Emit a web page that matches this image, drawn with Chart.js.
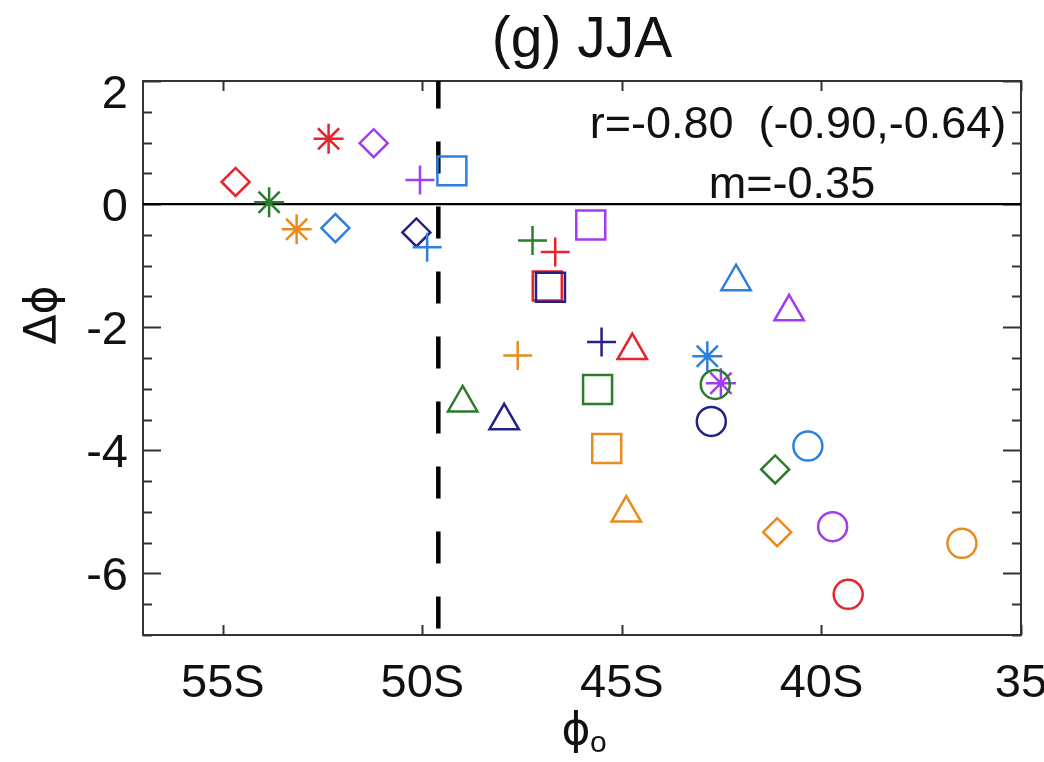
<!DOCTYPE html>
<html><head><meta charset="utf-8">
<script src="https://cdn.jsdelivr.net/npm/chart.js@4.4.1/dist/chart.umd.min.js"></script>
<style>html,body{margin:0;padding:0;background:#fff}#wrap{width:1044px;height:762px}</style>
</head><body><div id="wrap"><canvas id="c" width="1044" height="762"></canvas></div>
<script>
// ---- data ----
const chartTitle = '(g) JJA';
const xTickValues = [-55, -50, -45, -40, -35];
const xTickLabels = ['55S', '50S', '45S', '40S', '35'];
const yTickValues = [-6, -4, -2, 0, 2];
const yTickLabels = ['-6', '-4', '-2', '0', '2'];
const xAxisTitle = '\u03D5';
const xAxisSub = 'o';
const yAxisTitle = '\u0394\u03D5';
const statsLines = ['r=-0.80  (-0.90,-0.64)', 'm=-0.35'];
const refLatitude = -49.6;

// colour order: red, green, orange, blue, purple, navy
const memberColors = ['#E8232B', '#2B7D2B', '#E88C1E', '#2F7FE0', '#A23CEF', '#222286'];

const diamondLat  = [-54.68, -41.16, -41.11, -52.18, -51.22, -50.15];
const diamondDphi = [  0.36,  -4.31,  -5.33,  -0.39,   0.99,  -0.46];
const starLat     = [-52.35, -53.84, -53.15, -42.86, -42.52, null];
const starDphi    = [  1.06,   0.03,  -0.41,  -2.47,  -2.91, null];
const plusLat     = [-46.67, -47.24, -47.61, -49.88, -50.06, -45.51];
const plusDphi    = [ -0.78,  -0.59,  -2.46,  -0.70,   0.39,  -2.24];
const squareLat   = [-46.87, -45.61, -45.38, -49.26, -45.78, -46.79];
const squareDphi  = [ -1.33,  -3.01,  -3.97,   0.54,  -0.34,  -1.35];
const triLat      = [-44.74, -48.99, -44.89, -42.14, -40.81, -47.95];
const triDphi     = [ -2.38,  -3.23,  -5.02,  -1.26,  -1.75,  -3.52];
const circleLat   = [-39.33, -42.66, -36.48, -40.34, -39.72, -42.76];
const circleDphi  = [ -6.34,  -2.93,  -5.51,  -3.93,  -5.24,  -3.53];

// ---- build datasets ----
const FONT = '"Liberation Sans", Arial, "DejaVu Sans", sans-serif';
const GREEK_FONT = '"DejaVu Sans", "Liberation Sans", sans-serif';
function markerSet(lat, dphi, style, radius) {
  const pts = [], cols = [];
  lat.forEach((x, i) => {
    if (x === null || dphi[i] === null) return;
    pts.push({x: x, y: dphi[i]});
    cols.push(memberColors[i]);
  });
  return {
    type: 'scatter', data: pts, pointStyle: style, pointRadius: radius,
    pointBorderColor: cols, pointBackgroundColor: 'rgba(0,0,0,0)',
    pointBorderWidth: 2.5, pointHoverRadius: radius, order: 0
  };
}
const datasets = [
  {type: 'line', data: [{x: -57, y: 0}, {x: -35, y: 0}], borderColor: '#000', borderWidth: 2.2,
   pointRadius: 0, fill: false, order: 10},
  {type: 'line', data: [{x: refLatitude, y: 2}, {x: refLatitude, y: -7}], borderColor: '#000',
   borderWidth: 4.5, borderDash: [32, 33], borderDashOffset: 4.4, pointRadius: 0, fill: false, order: 9},
  markerSet(circleLat, circleDphi, 'circle', 14.5),
  markerSet(triLat, triDphi, 'triangle', 17),
  markerSet(squareLat, squareDphi, 'rect', 20.5),
  markerSet(plusLat, plusDphi, 'cross', 14.5),
  markerSet(diamondLat, diamondDphi, 'rectRot', 14),
  markerSet(starLat, starDphi, 'star', 15)
];

const decor = {
  id: 'decor',
  beforeDatasetsDraw(chart) {
    const {ctx, chartArea: a, scales: {x, y}} = chart;
    ctx.save();
    ctx.strokeStyle = '#333';
    ctx.lineWidth = 2;
    ctx.strokeRect(a.left, a.top, a.right - a.left, a.bottom - a.top);
    ctx.beginPath();
    for (let v = y.min; v <= y.max + 1e-9; v += 0.5) {
      const py = Math.round(y.getPixelForValue(v)) + 0.5;
      const len = (Math.abs(v % 2) < 1e-9) ? 18 : 9;
      ctx.moveTo(a.left, py); ctx.lineTo(a.left + len, py);
      ctx.moveTo(a.right, py); ctx.lineTo(a.right - len, py);
    }
    xTickValues.forEach(v => {
      const px = Math.round(x.getPixelForValue(v)) + 0.5;
      ctx.moveTo(px, a.bottom); ctx.lineTo(px, a.bottom - 10);
      ctx.moveTo(px, a.top); ctx.lineTo(px, a.top + 10);
    });
    ctx.stroke();
    ctx.restore();
  },
  afterDraw(chart) {
    const {ctx, chartArea: a, scales: {x, y}} = chart;
    ctx.save();
    ctx.fillStyle = '#111';
    // title
    ctx.font = '57px ' + FONT;
    ctx.textAlign = 'center';
    ctx.textBaseline = 'alphabetic';
    ctx.fillText(chartTitle, (a.left + a.right) / 2, 57);
    // x tick labels
    ctx.font = '47px ' + FONT;
    xTickValues.forEach((v, i) => {
      ctx.fillText(xTickLabels[i], x.getPixelForValue(v), 697);
    });
    // y tick labels
    ctx.textAlign = 'right';
    yTickValues.forEach((v, i) => {
      const cy = Math.max(y.getPixelForValue(v), a.top + 10);
      ctx.fillText(yTickLabels[i], a.left - 15, cy + 17);
    });
    // stats text
    ctx.font = '45px ' + FONT;
    ctx.textAlign = 'center';
    ctx.fillText(statsLines[0], 798, 138);
    ctx.fillText(statsLines[1], 792, 198);
    // x axis title
    const cx = (a.left + a.right) / 2;
    ctx.font = '44px ' + GREEK_FONT;
    ctx.textAlign = 'center';
    ctx.fillText(xAxisTitle, cx - 6, 744);
    ctx.font = '30px ' + FONT;
    ctx.textAlign = 'left';
    ctx.fillText(xAxisSub, cx + 8, 752);
    // y axis title
    ctx.font = '44px ' + GREEK_FONT;
    ctx.translate(56, 315);
    ctx.rotate(-Math.PI / 2);
    ctx.textAlign = 'center';
    ctx.fillText(yAxisTitle, 0, 0);
    ctx.restore();
  }
};

new Chart(document.getElementById('c'), {
  type: 'scatter',
  data: {datasets: datasets},
  options: {
    responsive: false, animation: false, devicePixelRatio: 1,
    layout: {padding: {left: 0, right: 12, top: 81, bottom: 0}},
    plugins: {legend: {display: false}, tooltip: {enabled: false}, title: {display: false}},
    events: [],
    scales: {
      x: {type: 'linear', min: -57, max: -35,
          ticks: {display: false}, grid: {display: false}, border: {display: false},
          afterBuildTicks: s => { s.ticks = xTickValues.map(v => ({value: v})); },
          afterFit: s => { s.height = 127; }},
      y: {type: 'linear', min: -7, max: 2,
          ticks: {display: false}, grid: {display: false}, border: {display: false},
          afterBuildTicks: s => { s.ticks = yTickValues.map(v => ({value: v})); },
          afterFit: s => { s.width = 143; }}
    }
  },
  plugins: [decor]
});
</script>
</body></html>
